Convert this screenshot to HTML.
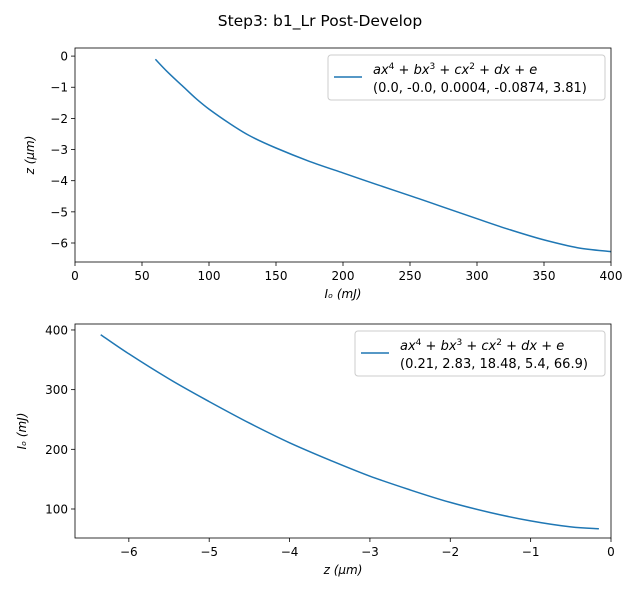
<!DOCTYPE html>
<html><head><meta charset="utf-8"><style>
body{margin:0;background:#fff}
svg text{font-family:"DejaVu Sans","Liberation Sans",sans-serif;fill:#000}
</style></head><body>
<svg id="c" width="640" height="600">
<text x="320" y="26" font-size="15.5" text-anchor="middle">Step3: b1_Lr Post-Develop</text>
</svg>
<script>
// top chart data
const topX=[60,70,80,90,100,115,130,150,175,200,225,250,275,300,325,350,375,400];
const topZ=[-0.1,-0.55,-0.95,-1.35,-1.7,-2.15,-2.55,-2.95,-3.38,-3.75,-4.12,-4.48,-4.85,-5.22,-5.58,-5.9,-6.15,-6.28];
const topXTicks=[0,50,100,150,200,250,300,350,400];
const topYTicks=[0,-1,-2,-3,-4,-5,-6];
// bottom chart data
const botZ=[-6.35,-6,-5.5,-5,-4.5,-4,-3.5,-3,-2.5,-2,-1.5,-1,-0.5,-0.15];
const botI=[392,360,318,280,244,211,182,155,132,111,94,80,70,67];
const botXTicks=[-6,-5,-4,-3,-2,-1,0];
const botYTicks=[100,200,300,400];

const svg=document.getElementById('c');const NS='http://www.w3.org/2000/svg';
function mk(t,a,txt){const e=document.createElementNS(NS,t);for(const k in a)e.setAttribute(k,a[k]);if(txt!=null)e.textContent=txt;svg.appendChild(e);return e;}
function smooth(pts){
  let d='M'+pts[0][0].toFixed(1)+','+pts[0][1].toFixed(1);
  for(let i=0;i<pts.length-1;i++){
    const p0=pts[Math.max(i-1,0)],p1=pts[i],p2=pts[i+1],p3=pts[Math.min(i+2,pts.length-1)];
    const c1=[p1[0]+(p2[0]-p0[0])/6,p1[1]+(p2[1]-p0[1])/6];
    const c2=[p2[0]-(p3[0]-p1[0])/6,p2[1]-(p3[1]-p1[1])/6];
    d+='C'+c1.map(v=>v.toFixed(1)).join(',')+' '+c2.map(v=>v.toFixed(1)).join(',')+' '+p2.map(v=>v.toFixed(1)).join(',');
  }
  return d;
}
function chart(o){
  const sx=v=>o.l+(v-o.x0)/(o.x1-o.x0)*(o.r-o.l);
  const sy=v=>o.b-(v-o.y0)/(o.y1-o.y0)*(o.b-o.t);
  o.xt.forEach(v=>{const x=sx(v);
    const l=mk('line',{x1:x,x2:x,y1:o.b,y2:o.b+4,stroke:'#000','stroke-width':0.8});
    
    const t=mk('text',{x:x,y:o.b+18,'font-size':12,'text-anchor':'middle'},String(v).replace('-','−'));
    });
  o.yt.forEach(v=>{const y=sy(v);
    const l=mk('line',{x1:o.l-4,x2:o.l,y1:y,y2:y,stroke:'#000','stroke-width':0.8});
    
    const t=mk('text',{x:o.l-7,y:y+4.5,'font-size':12,'text-anchor':'end'},String(v).replace('-','−'));
    });
  const pts=o.xs.map((v,i)=>[sx(v),sy(o.ys[i])]);
  const p=mk('path',{d:smooth(pts),fill:'none',stroke:'#1f77b4','stroke-width':1.5});
  
  const f=mk('rect',{x:o.l,y:o.t,width:o.r-o.l,height:o.b-o.t,fill:'none',stroke:'#000','stroke-width':0.8});
  
  const xl=mk('text',{x:(o.l+o.r)/2,y:o.b+36,'font-size':12,'text-anchor':'middle','font-style':'italic'},o.xl);
  
  const yl=mk('text',{x:0,y:0,'font-size':12,'text-anchor':'middle','font-style':'italic',transform:`translate(${o.ylx},${(o.t+o.b)/2}) rotate(-90)`},o.yl);
  
  const lg=mk('rect',{x:o.lgx,y:o.lgy,width:o.r-6-o.lgx,height:45,rx:3,fill:'#fff',stroke:'#ccc'});
  
  const ll=mk('line',{x1:o.lgx+6,x2:o.lgx+34,y1:o.lgy+22,y2:o.lgy+22,stroke:'#1f77b4','stroke-width':1.5});
  
  const t1=mk('text',{x:o.lgx+45,y:o.lgy+19,'font-size':13,'font-style':'italic'});
  t1.innerHTML='ax<tspan dy="-5" font-size="9" font-style="normal">4</tspan><tspan dy="5"> + bx</tspan><tspan dy="-5" font-size="9" font-style="normal">3</tspan><tspan dy="5"> + cx</tspan><tspan dy="-5" font-size="9" font-style="normal">2</tspan><tspan dy="5"> + dx + e</tspan>';
  
  const t2=mk('text',{x:o.lgx+45,y:o.lgy+37,'font-size':13},o.coef);
  
}
chart({name:'top',l:75,r:611,t:48,b:262,x0:0,x1:400,y0:-6.61,y1:0.26,xs:topX,ys:topZ,xt:topXTicks,yt:topYTicks,
  xl:'Iₒ (mJ)',yl:'z (μm)',ylx:34,lgx:328,lgy:55,coef:'(0.0, -0.0, 0.0004, -0.0874, 3.81)'});
chart({name:'bottom',l:75,r:611,t:324,b:538,x0:-6.67,x1:0,y0:51.4,y1:410,xs:botZ,ys:botI,xt:botXTicks,yt:botYTicks,
  xl:'z (μm)',yl:'Iₒ (mJ)',ylx:26,lgx:355,lgy:331,coef:'(0.21, 2.83, 18.48, 5.4, 66.9)'});
</script>
</body></html>
